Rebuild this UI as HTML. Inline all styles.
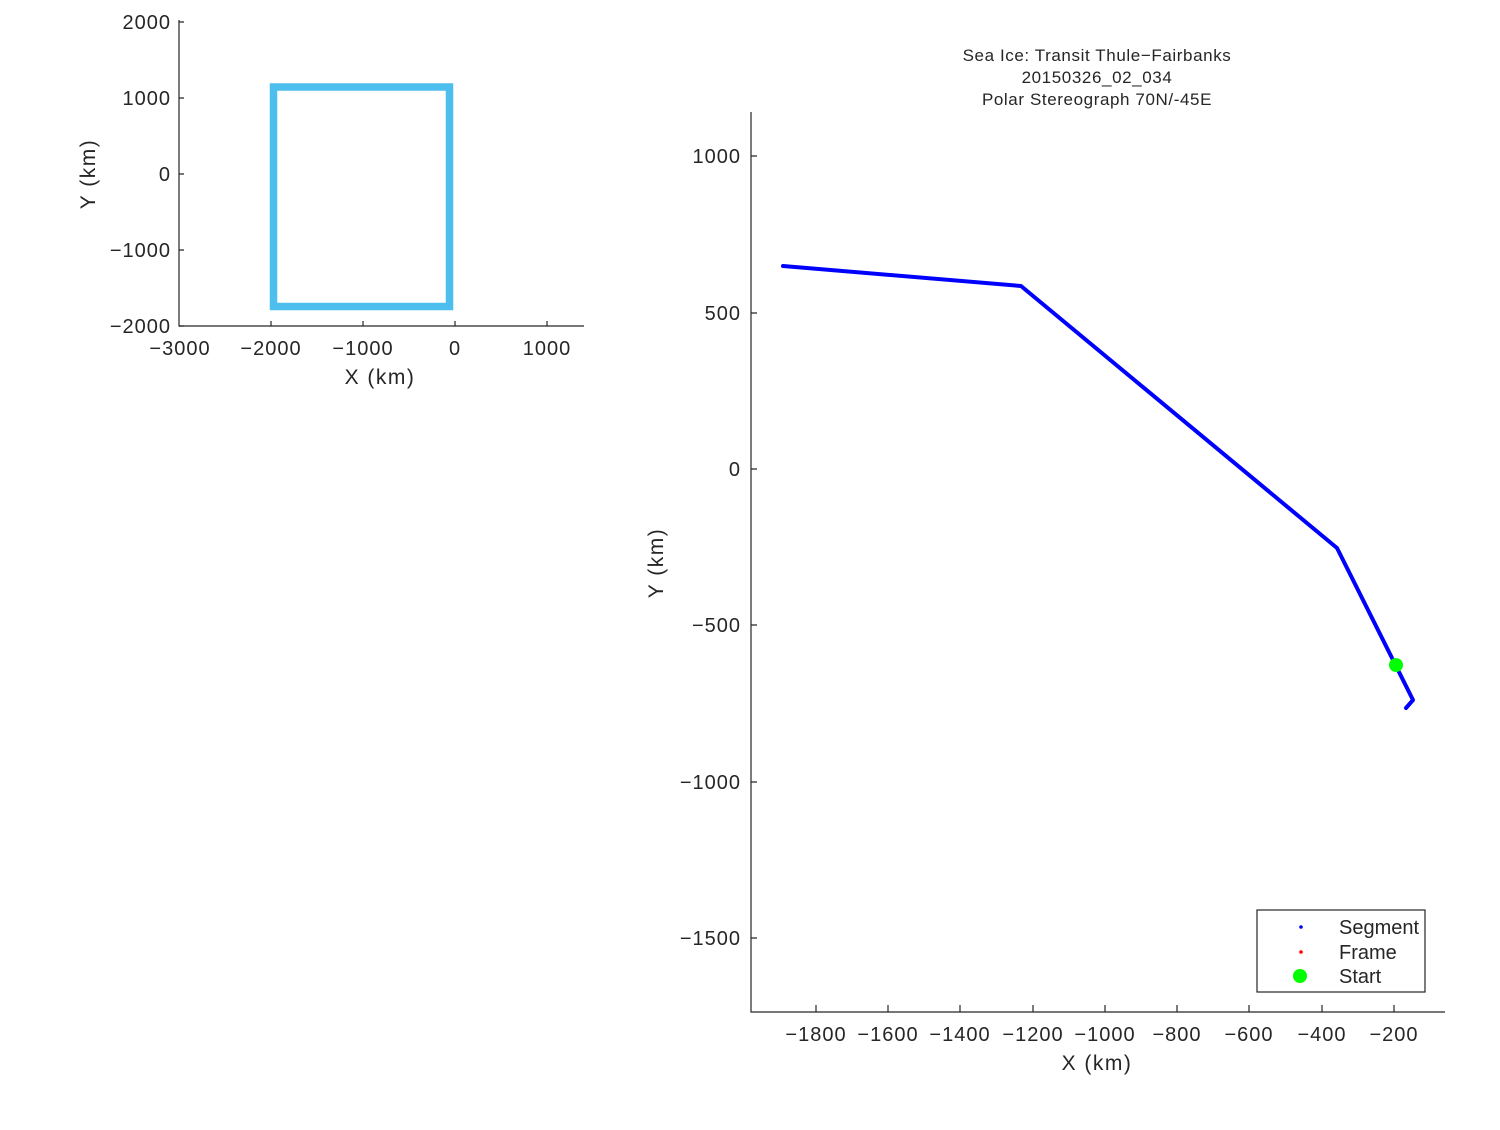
<!DOCTYPE html>
<html><head><meta charset="utf-8"><style>
html,body{margin:0;padding:0;background:#fff;}
svg text{font-family:"Liberation Sans","DejaVu Sans",sans-serif;fill:#262626;}
.t{font-size:20px;letter-spacing:1px;}
.l{font-size:21px;letter-spacing:1.5px;}
.h{font-size:17px;letter-spacing:0.6px;}
</style></head><body>
<svg width="1500" height="1125" viewBox="0 0 1500 1125" xmlns="http://www.w3.org/2000/svg">
<rect width="1500" height="1125" fill="#fff"/>
<g stroke="#262626" stroke-width="1.2" fill="none">
<path d="M179,20 V326 H584"/>
<path d="M179,22 h5 M179,98 h5 M179,174 h5 M179,250 h5 M179,326 h5"/>
<path d="M271,326 v-5 M363,326 v-5 M455,326 v-5 M547,326 v-5"/>
</g>
<g class="t" text-anchor="end">
<text x="171" y="29">2000</text>
<text x="171" y="105">1000</text>
<text x="171" y="181">0</text>
<text x="171" y="257">−1000</text>
<text x="171" y="333">−2000</text>
</g>
<g class="t" text-anchor="middle">
<text x="180" y="355">−3000</text>
<text x="271" y="355">−2000</text>
<text x="363" y="355">−1000</text>
<text x="455" y="355">0</text>
<text x="547" y="355">1000</text>
</g>
<g class="l" text-anchor="middle">
<text x="380" y="384">X (km)</text>
<text transform="translate(95,174) rotate(-90)">Y (km)</text>
</g>
<rect x="273.5" y="87" width="176" height="219.5" fill="none" stroke="#4DBEEE" stroke-width="7.5"/>
<g stroke="#262626" stroke-width="1.2" fill="none">
<path d="M751,112 V1012 H1445"/>
<path d="M751,156 h6 M751,313 h6 M751,469 h6 M751,625 h6 M751,782 h6 M751,938 h6"/>
<path d="M816,1012 v-7 M888,1012 v-7 M960,1012 v-7 M1033,1012 v-7 M1105,1012 v-7 M1177,1012 v-7 M1249,1012 v-7 M1322,1012 v-7 M1394,1012 v-7"/>
</g>
<g class="t" text-anchor="end">
<text x="741" y="163">1000</text>
<text x="741" y="320">500</text>
<text x="741" y="476">0</text>
<text x="741" y="632">−500</text>
<text x="741" y="789">−1000</text>
<text x="741" y="945">−1500</text>
</g>
<g class="t" text-anchor="middle">
<text x="816" y="1041">−1800</text>
<text x="888" y="1041">−1600</text>
<text x="960" y="1041">−1400</text>
<text x="1033" y="1041">−1200</text>
<text x="1105" y="1041">−1000</text>
<text x="1177" y="1041">−800</text>
<text x="1249" y="1041">−600</text>
<text x="1322" y="1041">−400</text>
<text x="1394" y="1041">−200</text>
</g>
<g class="l" text-anchor="middle">
<text x="1097" y="1070">X (km)</text>
<text transform="translate(663,563) rotate(-90)">Y (km)</text>
</g>
<g class="h" text-anchor="middle">
<text x="1097" y="61">Sea Ice: Transit Thule−Fairbanks</text>
<text x="1097" y="83">20150326_02_034</text>
<text x="1097" y="105">Polar Stereograph 70N/-45E</text>
</g>
<polyline points="783,266 1021,286 1337,548 1413,700 1406,708" fill="none" stroke="#0000ff" stroke-width="4" stroke-linejoin="round" stroke-linecap="round"/>
<circle cx="1396" cy="665" r="7" fill="#00ff00"/>
<rect x="1257" y="910" width="168" height="82" fill="#fff" stroke="#262626" stroke-width="1.2"/>
<circle cx="1301" cy="927" r="1.8" fill="#0000ff"/>
<circle cx="1301" cy="952" r="1.8" fill="#ff0000"/>
<circle cx="1300" cy="976" r="7" fill="#00ff00"/>
<g style="font-size:20px">
<text x="1339" y="934">Segment</text>
<text x="1339" y="959">Frame</text>
<text x="1339" y="983">Start</text>
</g>
</svg>
</body></html>
